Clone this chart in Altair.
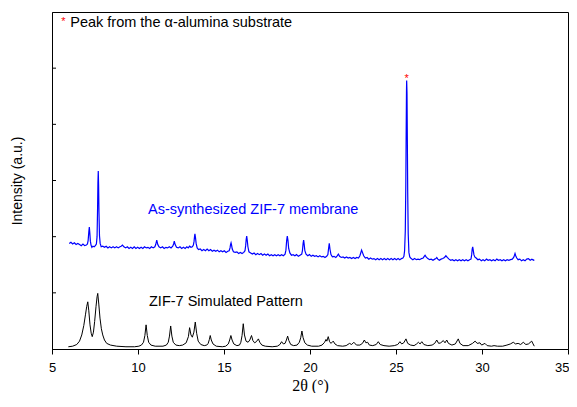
import altair as alt
import pandas as pd

# ---- data (2theta in degrees, intensity in arbitrary units) ----
x_ticks = [5, 10, 15, 20, 25, 30, 35]
y_ticks = [1, 2, 3, 4, 5]

simulated = [
    (5.95, 0.04), (6.20, 0.05), (6.44, 0.08), (6.60, 0.14), (6.73, 0.25), (6.85, 0.42), (6.95, 0.62),
    (7.02, 0.76), (7.08, 0.84), (7.14, 0.68), (7.21, 0.43), (7.28, 0.28), (7.34, 0.22), (7.41, 0.30),
    (7.48, 0.49), (7.56, 0.76), (7.62, 0.93), (7.66, 0.99), (7.72, 0.80), (7.79, 0.55), (7.87, 0.36),
    (7.95, 0.25), (8.05, 0.16), (8.18, 0.10), (8.40, 0.07), (8.76, 0.05), (9.30, 0.04), (9.80, 0.04),
    (10.05, 0.05), (10.20, 0.07), (10.32, 0.12), (10.40, 0.24), (10.47, 0.43), (10.54, 0.24),
    (10.62, 0.12), (10.75, 0.07), (11.00, 0.05), (11.45, 0.05), (11.65, 0.07), (11.76, 0.12),
    (11.83, 0.23), (11.90, 0.41), (11.97, 0.23), (12.05, 0.12), (12.20, 0.07), (12.40, 0.06),
    (12.60, 0.07), (12.80, 0.11), (12.93, 0.22), (13.00, 0.38), (13.08, 0.25), (13.16, 0.21),
    (13.25, 0.30), (13.33, 0.48), (13.41, 0.28), (13.50, 0.14), (13.65, 0.08), (13.85, 0.06),
    (14.00, 0.07), (14.08, 0.10), (14.15, 0.17), (14.20, 0.24), (14.26, 0.16), (14.36, 0.09),
    (14.55, 0.05), (14.90, 0.04), (15.10, 0.05), (15.25, 0.09), (15.33, 0.16), (15.40, 0.24),
    (15.47, 0.16), (15.57, 0.09), (15.75, 0.06), (15.90, 0.07), (15.98, 0.12), (16.05, 0.24),
    (16.12, 0.45), (16.19, 0.25), (16.28, 0.14), (16.40, 0.12), (16.50, 0.16), (16.60, 0.24),
    (16.68, 0.15), (16.78, 0.11), (16.88, 0.13), (17.00, 0.18), (17.08, 0.12), (17.20, 0.07),
    (17.40, 0.05), (17.80, 0.04), (18.10, 0.05), (18.25, 0.08), (18.35, 0.13), (18.45, 0.09),
    (18.55, 0.10), (18.63, 0.16), (18.70, 0.23), (18.77, 0.15), (18.88, 0.08), (19.05, 0.06),
    (19.25, 0.07), (19.38, 0.12), (19.46, 0.20), (19.53, 0.32), (19.60, 0.20), (19.70, 0.11),
    (19.85, 0.07), (20.10, 0.05), (20.50, 0.05), (20.70, 0.07), (20.85, 0.12), (20.93, 0.17),
    (20.98, 0.14), (21.06, 0.22), (21.14, 0.13), (21.22, 0.10), (21.35, 0.14), (21.45, 0.09),
    (21.60, 0.06), (21.90, 0.05), (22.10, 0.06), (22.30, 0.10), (22.42, 0.08), (22.55, 0.12),
    (22.70, 0.07), (22.90, 0.07), (23.05, 0.10), (23.16, 0.16), (23.25, 0.11), (23.35, 0.12),
    (23.45, 0.07), (23.65, 0.06), (23.85, 0.08), (23.97, 0.13), (24.08, 0.08), (24.30, 0.06),
    (24.60, 0.05), (24.90, 0.06), (25.10, 0.08), (25.23, 0.13), (25.33, 0.09), (25.45, 0.11),
    (25.58, 0.18), (25.68, 0.10), (25.85, 0.07), (26.05, 0.06), (26.20, 0.09), (26.30, 0.12),
    (26.40, 0.09), (26.50, 0.13), (26.62, 0.08), (26.85, 0.06), (27.10, 0.07), (27.25, 0.10),
    (27.37, 0.16), (27.48, 0.10), (27.60, 0.11), (27.75, 0.15), (27.85, 0.11), (27.95, 0.16),
    (28.05, 0.10), (28.25, 0.07), (28.45, 0.09), (28.62, 0.18), (28.72, 0.10), (28.90, 0.06),
    (29.20, 0.06), (29.45, 0.10), (29.60, 0.14), (29.72, 0.10), (29.88, 0.11), (29.98, 0.07),
    (30.17, 0.10), (30.30, 0.06), (30.55, 0.05), (30.70, 0.06), (30.90, 0.05), (31.20, 0.05),
    (31.45, 0.07), (31.65, 0.09), (31.82, 0.12), (31.95, 0.09), (32.10, 0.10), (32.25, 0.08),
    (32.40, 0.12), (32.55, 0.08), (32.70, 0.09), (32.89, 0.14), (32.97, 0.09), (33.04, 0.05),
]

membrane = [
    (6.00, 1.88), (6.10, 1.90), (6.20, 1.87), (6.30, 1.89), (6.40, 1.86), (6.50, 1.88), (6.60, 1.86),
    (6.70, 1.84), (6.80, 1.87), (6.90, 1.84), (7.00, 1.85), (7.06, 1.87),
    (7.10, 1.93), (7.14, 2.08), (7.17, 2.17), (7.20, 2.06), (7.23, 1.92), (7.27, 1.85), (7.32, 1.81),
    (7.38, 1.83), (7.45, 1.82), (7.52, 1.84), (7.58, 1.87),
    (7.62, 2.00), (7.65, 2.50), (7.67, 2.95), (7.69, 3.17), (7.71, 2.90), (7.73, 2.45), (7.76, 2.02),
    (7.80, 1.88), (7.86, 1.82), (7.95, 1.83),
    (8.05, 1.81), (8.15, 1.83), (8.25, 1.80), (8.35, 1.82), (8.45, 1.80), (8.55, 1.82), (8.65, 1.80),
    (8.75, 1.82), (8.85, 1.80), (8.95, 1.82), (9.02, 1.83), (9.10, 1.85), (9.18, 1.82), (9.28, 1.80),
    (9.38, 1.82), (9.48, 1.79), (9.58, 1.81), (9.68, 1.79), (9.78, 1.82), (9.88, 1.79), (9.98, 1.81),
    (10.08, 1.79), (10.18, 1.81), (10.28, 1.79), (10.38, 1.82), (10.48, 1.80), (10.58, 1.81),
    (10.68, 1.79), (10.78, 1.82), (10.88, 1.80), (10.98, 1.82),
    (11.03, 1.86), (11.09, 1.94), (11.15, 1.86), (11.22, 1.82), (11.32, 1.80), (11.42, 1.82),
    (11.52, 1.79), (11.62, 1.81), (11.72, 1.80), (11.82, 1.82), (11.92, 1.80), (12.02, 1.83),
    (12.07, 1.87), (12.11, 1.92), (12.16, 1.86), (12.24, 1.81), (12.34, 1.80), (12.44, 1.82),
    (12.54, 1.79), (12.64, 1.81), (12.74, 1.79), (12.84, 1.82), (12.92, 1.80), (13.00, 1.83),
    (13.08, 1.81), (13.16, 1.82), (13.22, 1.85),
    (13.26, 1.92), (13.29, 2.01), (13.31, 2.05), (13.34, 1.99), (13.38, 1.88), (13.44, 1.80),
    (13.52, 1.77), (13.62, 1.78), (13.72, 1.75), (13.82, 1.77), (13.92, 1.75), (14.02, 1.78),
    (14.12, 1.75), (14.22, 1.77), (14.32, 1.74), (14.42, 1.76), (14.52, 1.74), (14.62, 1.76),
    (14.72, 1.73), (14.82, 1.75), (14.92, 1.73), (15.02, 1.75), (15.12, 1.72), (15.22, 1.74),
    (15.30, 1.75),
    (15.35, 1.80), (15.38, 1.86), (15.41, 1.89), (15.44, 1.85), (15.48, 1.78), (15.55, 1.73),
    (15.65, 1.72), (15.75, 1.73), (15.85, 1.70), (15.95, 1.72), (16.05, 1.70), (16.15, 1.72),
    (16.22, 1.75),
    (16.26, 1.84), (16.29, 1.95), (16.32, 2.01), (16.35, 1.94), (16.39, 1.82), (16.45, 1.73),
    (16.55, 1.71), (16.65, 1.69), (16.75, 1.71), (16.85, 1.68), (16.95, 1.70), (17.05, 1.68),
    (17.15, 1.70), (17.25, 1.67), (17.35, 1.69), (17.45, 1.67), (17.55, 1.69), (17.65, 1.66),
    (17.75, 1.68), (17.85, 1.66), (17.95, 1.68), (18.05, 1.66), (18.15, 1.68), (18.25, 1.66),
    (18.35, 1.68), (18.45, 1.66), (18.55, 1.69),
    (18.60, 1.76), (18.64, 1.92), (18.68, 2.01), (18.72, 1.93), (18.76, 1.79), (18.83, 1.71),
    (18.92, 1.67), (19.02, 1.68), (19.12, 1.66), (19.22, 1.68), (19.32, 1.65), (19.42, 1.67),
    (19.52, 1.69),
    (19.56, 1.75), (19.60, 1.88), (19.63, 1.94), (19.66, 1.87), (19.70, 1.75), (19.77, 1.69),
    (19.87, 1.66), (19.97, 1.68), (20.07, 1.65), (20.17, 1.67), (20.27, 1.65), (20.37, 1.66),
    (20.47, 1.64), (20.57, 1.66), (20.67, 1.64), (20.77, 1.65), (20.87, 1.63), (20.97, 1.65),
    (21.04, 1.68),
    (21.08, 1.79), (21.12, 1.88), (21.16, 1.78), (21.22, 1.68), (21.30, 1.64), (21.40, 1.65),
    (21.50, 1.63), (21.58, 1.66), (21.65, 1.69), (21.72, 1.65), (21.82, 1.63), (21.92, 1.64),
    (22.02, 1.62), (22.12, 1.64), (22.22, 1.62), (22.32, 1.63), (22.42, 1.61), (22.52, 1.63),
    (22.62, 1.61), (22.72, 1.63), (22.82, 1.62), (22.90, 1.66),
    (22.95, 1.71), (23.00, 1.76), (23.05, 1.72), (23.12, 1.66), (23.22, 1.62), (23.32, 1.63),
    (23.42, 1.60), (23.52, 1.62), (23.62, 1.60), (23.72, 1.61), (23.82, 1.59), (23.92, 1.61),
    (24.02, 1.59), (24.12, 1.61), (24.22, 1.59), (24.32, 1.61), (24.42, 1.59), (24.52, 1.61),
    (24.62, 1.59), (24.72, 1.61), (24.82, 1.59), (24.92, 1.61), (25.02, 1.59), (25.12, 1.61),
    (25.22, 1.59), (25.32, 1.61), (25.40, 1.62), (25.46, 1.65),
    (25.50, 1.75), (25.54, 2.10), (25.57, 2.90), (25.59, 3.80), (25.61, 4.60), (25.62, 4.78),
    (25.64, 4.55), (25.66, 3.70), (25.68, 2.80), (25.71, 2.05), (25.75, 1.72), (25.80, 1.64),
    (25.88, 1.61), (25.98, 1.59), (26.08, 1.61), (26.18, 1.59), (26.28, 1.60), (26.38, 1.59),
    (26.48, 1.61), (26.58, 1.62),
    (26.64, 1.65), (26.69, 1.67), (26.75, 1.64), (26.85, 1.61), (26.95, 1.59), (27.05, 1.60),
    (27.15, 1.58), (27.25, 1.60), (27.32, 1.61), (27.37, 1.63), (27.43, 1.60), (27.52, 1.58),
    (27.62, 1.60), (27.72, 1.61), (27.82, 1.63), (27.90, 1.66), (27.98, 1.63), (28.08, 1.60),
    (28.18, 1.58), (28.28, 1.59), (28.38, 1.57), (28.48, 1.59), (28.58, 1.57), (28.68, 1.59),
    (28.78, 1.57), (28.88, 1.59), (28.98, 1.57), (29.08, 1.59), (29.18, 1.57), (29.28, 1.59),
    (29.36, 1.60),
    (29.40, 1.68), (29.43, 1.78), (29.46, 1.82), (29.49, 1.76), (29.53, 1.68), (29.58, 1.64),
    (29.66, 1.62), (29.76, 1.59), (29.86, 1.60), (29.96, 1.57), (30.06, 1.59), (30.16, 1.57),
    (30.26, 1.60), (30.36, 1.58), (30.46, 1.59), (30.56, 1.57), (30.66, 1.59), (30.76, 1.57),
    (30.86, 1.60), (30.96, 1.58), (31.06, 1.59), (31.16, 1.57), (31.26, 1.59), (31.36, 1.57),
    (31.46, 1.59), (31.56, 1.58), (31.66, 1.59), (31.76, 1.60), (31.84, 1.63),
    (31.89, 1.67), (31.92, 1.70), (31.96, 1.66), (32.02, 1.62), (32.10, 1.59), (32.20, 1.60),
    (32.30, 1.57), (32.40, 1.59), (32.50, 1.57), (32.60, 1.60), (32.70, 1.61), (32.80, 1.58),
    (32.90, 1.60), (33.00, 1.58), (33.04, 1.59),
]

sim_df = pd.DataFrame(simulated, columns=["theta", "intensity"])
mem_df = pd.DataFrame(membrane, columns=["theta", "intensity"])
tick_df = pd.DataFrame({"v": y_ticks})
one = pd.DataFrame({"k": [0]})

SANS = "Liberation Sans"
SERIF = "Liberation Serif"

x_enc = alt.X(
    "theta:Q",
    scale=alt.Scale(domain=[5, 35], nice=False, zero=False),
    axis=alt.Axis(
        values=x_ticks, title="2θ (°)", grid=False, tickSize=5,
        labelPadding=7, titlePadding=3, titleFont=SERIF, titleFontSize=16,
        titleFontWeight="normal", labelFont=SANS, labelFontSize=13,
        labelAlign={"condition": {"test": "datum.value == 35", "value": "right"}, "value": "center"},
        labelOffset={"condition": {"test": "datum.value == 35", "value": 1}, "value": 0},
    ),
)
y_enc = alt.Y(
    "intensity:Q",
    scale=alt.Scale(domain=[0, 6], nice=False, zero=False),
    axis=alt.Axis(
        labels=False, ticks=False, grid=False, title="Intensity (a.u.)",
        titleFont=SANS, titleFontSize=14, titleFontWeight="normal",
        titleX=-35, titleBaseline="middle",
    ),
)

sim_line = alt.Chart(sim_df).mark_line(color="black", strokeWidth=1).encode(x=x_enc, y=y_enc)
mem_line = alt.Chart(mem_df).mark_line(color="#0000ff", strokeWidth=1.2).encode(x=x_enc, y=y_enc)

inner_ticks = alt.Chart(tick_df).mark_rule(color="black", strokeWidth=1).encode(
    y=alt.Y("v:Q"), x=alt.value(0), x2=alt.value(4)
)

def label(text, x, y, color="black", size=14.5, align="left", baseline="middle"):
    return alt.Chart(one).mark_text(
        text=text, color=color, font=SANS, fontSize=size, align=align, baseline=baseline
    ).encode(x=alt.datum(x), y=alt.datum(y))

texts = [
    label("*", 5.66, 5.76, color="#ff0000", size=11, align="center", baseline="alphabetic"),
    label("Peak from the α-alumina substrate", 6.06, 5.81),
    label("As-synthesized ZIF-7 membrane", 10.58, 2.47, color="#0000ff"),
    label("ZIF-7 Simulated Pattern", 10.64, 0.84),
    label("*", 25.62, 4.75, color="#ff0000", size=11, align="center", baseline="alphabetic"),
]

chart = alt.layer(sim_line, mem_line, inner_ticks, *texts).properties(
    width=516, height=337,
    autosize=alt.AutoSizeParams(type="none"),
    padding={"left": 44, "top": 4, "right": 1, "bottom": 44},
).configure_view(
    stroke="black", strokeWidth=1
).configure_axis(
    domainColor="black", tickColor="black", labelColor="black", titleColor="black"
)

chart.save("out.html", embed_options={"renderer": "svg", "actions": False})
